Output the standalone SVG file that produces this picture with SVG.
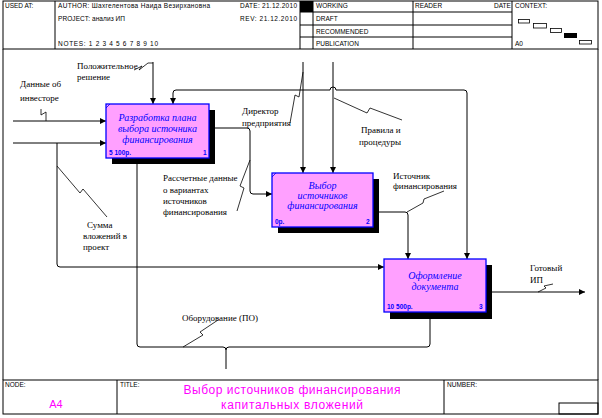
<svg xmlns="http://www.w3.org/2000/svg" width="602" height="418" viewBox="0 0 602 418">
<style>
.frame{fill:none;stroke:#000;stroke-width:1}
.hdr{font-family:"Liberation Sans",Arial,sans-serif;font-size:6.5px;fill:#000}
.box{fill:#ffa0ff;stroke:#0000ff;stroke-width:1.3}
.shadow{fill:#000}
.btxt{font-family:"Liberation Serif","Times New Roman",serif;font-style:italic;font-size:10px;fill:#0000ff;text-anchor:middle}
.bnum{font-family:"Liberation Sans",Arial,sans-serif;font-size:6.5px;font-weight:bold;fill:#0000ff}
.lbl{font-family:"Liberation Serif","Times New Roman",serif;font-size:9px;fill:#000}
.conn{fill:none;stroke:#000;stroke-width:1}
.sq{fill:none;stroke:#000;stroke-width:0.8}
.ttl{font-family:"Liberation Sans",Arial,sans-serif;font-size:12px;fill:#ff00ff;text-anchor:middle}
</style>
<defs>
<marker id="ah" markerUnits="userSpaceOnUse" markerWidth="7" markerHeight="6" refX="6" refY="3" orient="auto">
<path d="M0,0 L6,3 L0,6 z" fill="#000"/>
</marker>
</defs>
<rect width="602" height="418" fill="#fff"/>
<g id="header">
<rect class="frame" x="3" y="1" width="595" height="48"/>
<line class="frame" x1="55" y1="1" x2="55" y2="49"/>
<rect x="300" y="1" width="13" height="11" fill="#000"/>
<line class="frame" x1="300" y1="1" x2="300" y2="49"/>
<line class="frame" x1="313" y1="1" x2="313" y2="49"/>
<line class="frame" x1="413" y1="1" x2="413" y2="49"/>
<line class="frame" x1="512" y1="1" x2="512" y2="49"/>
<line class="frame" x1="300" y1="12" x2="512" y2="12"/>
<line class="frame" x1="300" y1="25" x2="512" y2="25"/>
<line class="frame" x1="300" y1="37" x2="512" y2="37"/>
<text class="hdr" x="5" y="8">USED AT:</text>
<text class="hdr" x="58" y="8" textLength="152">AUTHOR: Шахгелентова Наида Везирхановна</text>
<text class="hdr" x="240" y="8" textLength="57">DATE:  21.12.2010</text>
<text class="hdr" x="58" y="21" textLength="67">PROJECT: анализ ИП</text>
<text class="hdr" x="240" y="21" textLength="57">REV:    21.12.2010</text>
<text class="hdr" x="58" y="46" textLength="100">NOTES:  1  2  3  4  5  6  7  8  9  10</text>
<text class="hdr" x="316" y="8">WORKING</text>
<text class="hdr" x="316" y="21">DRAFT</text>
<text class="hdr" x="316" y="34">RECOMMENDED</text>
<text class="hdr" x="316" y="46">PUBLICATION</text>
<text class="hdr" x="415" y="8">READER</text>
<text class="hdr" x="494" y="8">DATE</text>
<text class="hdr" x="515" y="8">CONTEXT:</text>
<text class="hdr" x="515" y="46">A0</text>
<rect x="518.5" y="19.5" width="11" height="3.5" fill="#fff" stroke="#000" stroke-width="0.8"/>
<rect x="533.5" y="23.5" width="13" height="4.5" fill="#fff" stroke="#000" stroke-width="0.8"/>
<rect x="550.5" y="28.5" width="11" height="4" fill="#fff" stroke="#000" stroke-width="0.8"/>
<rect x="564" y="33" width="13" height="5" fill="#000"/>
<rect x="579.5" y="40.5" width="12" height="3.5" fill="#fff" stroke="#000" stroke-width="0.8"/>
</g>
<g id="body-frame">
<line class="frame" x1="3" y1="49" x2="3" y2="380"/>
<line class="frame" x1="598" y1="49" x2="598" y2="380"/>
</g>
<g id="footer">
<rect class="frame" x="3" y="380" width="595" height="34"/>
<line class="frame" x1="117" y1="380" x2="117" y2="414"/>
<line class="frame" x1="444" y1="380" x2="444" y2="414"/>
<rect class="frame" x="559" y="403" width="39" height="11"/>
<text class="hdr" x="5" y="387">NODE:</text>
<text class="hdr" x="120" y="387">TITLE:</text>
<text class="hdr" x="447" y="387">NUMBER:</text>
<text x="56" y="408" font-family="Liberation Sans, Arial, sans-serif" font-size="11px" fill="#ff00ff" text-anchor="middle">A4</text>
<text class="ttl" x="292" y="394" textLength="217">Выбор источников финансирования</text>
<text class="ttl" x="292" y="409" textLength="142">капитальных  вложений</text>
</g>
<g id="connectors">
<path class="conn" d="M13,121 L106,121" marker-end="url(#ah)"/>
<path class="conn" d="M13,143 L106,143" marker-end="url(#ah)"/>
<path class="conn" d="M57,143 L57,264 Q57,267 60,267 L384,267" marker-end="url(#ah)"/>
<path class="conn" d="M153,62 L153,104" marker-end="url(#ah)"/>
<path class="conn" d="M303,62 L303,173" marker-end="url(#ah)"/>
<path class="conn" d="M333,62 L333,173" marker-end="url(#ah)"/>
<path class="conn" d="M303,90 L176,90 Q173,90 173,93 L173,104" marker-end="url(#ah)"/>
<path class="conn" d="M303,90 L330,90 A3,3 0 0 1 336,90 L464,90 Q467,90 467,93 L467,259" marker-end="url(#ah)"/>
<path class="conn" d="M209,128 L247,128 Q250,128 250,131 L250,191 Q250,194 253,194 L272,194" marker-end="url(#ah)"/>
<path class="conn" d="M373,212 L405,212 Q408,212 408,215 L408,259" marker-end="url(#ah)"/>
<path class="conn" d="M486,292 L585,292" marker-end="url(#ah)"/>
<path class="conn" d="M226,369 L226,350 Q226,347 223,347 L140,347 Q137,347 137,344 L137,158" marker-end="url(#ah)"/>
<path class="conn" d="M226,350 Q226,347 229,347 L427,347 Q430,347 430,344 L430,312" marker-end="url(#ah)"/>
<path class="sq" d="M41,109 L41,115 L46,112 L46,121"/>
<path class="sq" d="M134,70 L142,66 L139,70 L148,63 L153,63"/>
<path class="sq" d="M290,123 L295,95 L299,97 L303,72"/>
<path class="sq" d="M334,98 L367,113 L370,108 L402,120"/>
<path class="sq" d="M57,166 L80,193 L83,189 L107,217"/>
<path class="sq" d="M237,211 L244,188 L240,186 L250,160"/>
<path class="sq" d="M444,191 L424,199 L423,203 L407,212"/>
<path class="sq" d="M538,292 L546,288 L544,286 L553,284"/>
<path class="sq" d="M218,320 L200,332 L203,335 L183,347"/>
</g>
<g id="labels">
<text class="lbl" x="20" y="87">Данные об</text>
<text class="lbl" x="20" y="101">инвесторе</text>
<text class="lbl" x="77" y="69">Положительное</text>
<text class="lbl" x="77" y="80">решение</text>
<text class="lbl" x="242" y="114">Директор</text>
<text class="lbl" x="242" y="126">предприятия</text>
<text class="lbl" x="361" y="133">Правила и</text>
<text class="lbl" x="359" y="145">процедуры</text>
<text class="lbl" x="163" y="181">Рассчетные данные</text>
<text class="lbl" x="163" y="193">о вариантах</text>
<text class="lbl" x="163" y="204">источников</text>
<text class="lbl" x="163" y="215">финансирования</text>
<text class="lbl" x="87" y="228">Сумма</text>
<text class="lbl" x="83" y="239">вложений в</text>
<text class="lbl" x="83" y="250">проект</text>
<text class="lbl" x="393" y="179">Источник</text>
<text class="lbl" x="393" y="189">финансирования</text>
<text class="lbl" x="530" y="271">Готовый</text>
<text class="lbl" x="530" y="283">ИП</text>
<text class="lbl" x="182" y="321">Оборудование (ПО)</text>
</g>
<g id="node1">
<rect class="shadow" x="112" y="110" width="103" height="54"/>
<rect class="box" x="106" y="104" width="103" height="54"/>
<line x1="106" y1="108" x2="110" y2="104" stroke="#0000ff" stroke-width="0.8"/>
<text class="btxt" x="157.5" y="121">Разработка плана</text>
<text class="btxt" x="157.5" y="132">выбора источника</text>
<text class="btxt" x="157.5" y="143">финансирования</text>
<text class="bnum" x="109" y="155">5 100р.</text>
<text class="bnum" x="203" y="155">1</text>
</g>
<g id="node2">
<rect class="shadow" x="278" y="179" width="101" height="54"/>
<rect class="box" x="272" y="173" width="101" height="54"/>
<line x1="272" y1="177" x2="276" y2="173" stroke="#0000ff" stroke-width="0.8"/>
<text class="btxt" x="322.5" y="189">Выбор</text>
<text class="btxt" x="322.5" y="199">источников</text>
<text class="btxt" x="322.5" y="209">финансирования</text>
<text class="bnum" x="275" y="224">0р.</text>
<text class="bnum" x="366" y="224">2</text>
</g>
<g id="node3">
<rect class="shadow" x="390" y="265" width="102" height="54"/>
<rect class="box" x="384" y="259" width="102" height="53"/>
<text class="btxt" x="435" y="279">Оформление</text>
<text class="btxt" x="435" y="290">документа</text>
<text class="bnum" x="387" y="309">10 500р.</text>
<text class="bnum" x="479" y="309">3</text>
</g>
</svg>
